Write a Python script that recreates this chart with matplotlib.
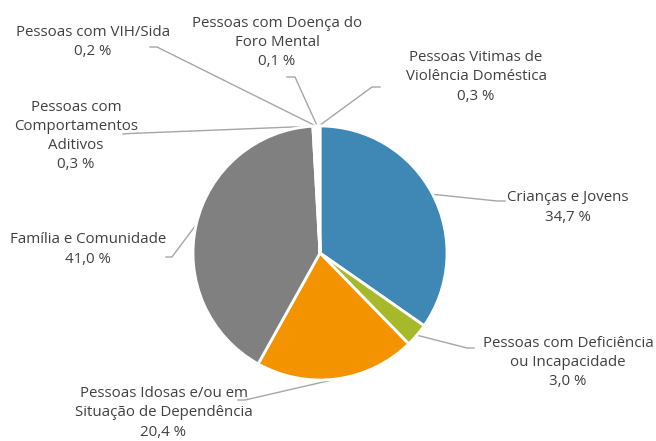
import numpy as np
import matplotlib.pyplot as plt

# dados
categorias = ["Crianças e Jovens", "Pessoas com Deficiência\nou Incapacidade",
              "Pessoas Idosas e/ou em\nSituação de Dependência", "Família e Comunidade",
              "Pessoas com\nComportamentos\nAditivos", "Pessoas com VIH/Sida",
              "Pessoas com Doença do\nForo Mental", "Pessoas Vitimas de\nViolência Doméstica"]
valores = [34.7, 3.0, 20.4, 41.0, 0.3, 0.2, 0.1, 0.3]
rotulos = ["34,7 %", "3,0 %", "20,4 %", "41,0 %", "0,3 %", "0,2 %", "0,1 %", "0,3 %"]
cores = ["#3f88b5", "#a5b92a", "#f49300", "#808080", "#2a5f86", "#6f8a1e", "#b36b00", "#595959"]

W, H = 656, 441

# posicoes (pixels da imagem): texto, cotovelo e fim da linha guia
txt_pos = [(568, 207.5), (568, 362.5), (163.5, 413), (88, 249.5),
           (76, 136), (93, 42), (277, 42.5), (476, 77)]
cotovelo = [(497, 201), (467, 348), (245, 400), (172, 257),
            (130, 133.5), (157, 47), (295, 77), (372, 87)]
fim = [(505, 201), (474, 348), (238, 400), (166, 257),
       (123, 134), (150, 47), (287, 77), (380, 87)]

cx, cy, r = 320, 253, 127

fig = plt.figure(figsize=(W / 100, H / 100), dpi=100)
ax = fig.add_axes([0, 0, 1, 1])

wedges, _ = ax.pie(valores, colors=cores, startangle=90, counterclock=False,
                   center=(cx, H - cy), radius=r,
                   wedgeprops=dict(edgecolor='white', linewidth=2))

for i, w in enumerate(wedges):
    ang = np.deg2rad((w.theta1 + w.theta2) / 2)
    x0 = cx + r * np.cos(ang)
    y0 = (H - cy) + r * np.sin(ang)
    ex, ey = cotovelo[i]
    fx, fy = fim[i]
    ax.plot([x0, ex, fx], [y0, H - ey, H - fy], color='#a6a6a6', lw=1, zorder=0)
    tx, ty = txt_pos[i]
    ax.text(tx, H - ty, categorias[i] + "\n" + rotulos[i], ha='center', va='center',
            fontsize=10.8, color='#404040', family='Open Sans', linespacing=1.38)

ax.set_xlim(0, W)
ax.set_ylim(0, H)
ax.set_aspect('equal')
ax.axis('off')

fig.savefig('out.png', dpi=100)
